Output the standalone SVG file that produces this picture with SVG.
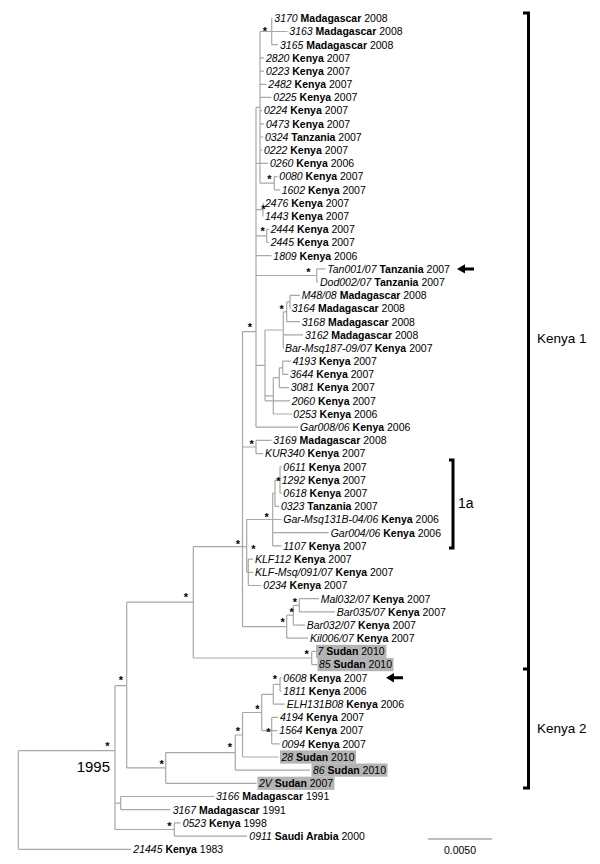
<svg xmlns="http://www.w3.org/2000/svg" width="600" height="864" viewBox="0 0 600 864">
<style>
text{font-family:"Liberation Sans",Arial,sans-serif;fill:#000}
.l{font-size:10.5px}
.i{font-style:italic}
.b{font-weight:bold}
.s{font-size:11px;font-weight:bold;text-anchor:middle}
.br{stroke:#a8a8a8;stroke-width:1.2;fill:none}
.bk{stroke:#000;stroke-width:3;fill:none}
.hl{fill:#b4b4b4}
</style>
<rect width="600" height="864" fill="#fff"/>
<g id="connectors">
<path class="br" d="M18.3,750.7V849.3M18.3,750.7H115M18.3,849.3H131
M115,685.7V829.5M115,685.7H126.7M115,803.1H120.7M120.7,796.5V809.7M120.7,796.5H214M120.7,809.7H170.5
M115,829.5H174.3M174.3,822.9V836.1M174.3,822.9H180.5M174.3,836.1H247
M126.7,602.2V767.9M126.7,602.2H193.3M126.7,767.9H165.7
M165.7,752.6V783.3M165.7,783.3H256.5M165.7,752.6H235.3M235.3,735V770.1M235.3,770.1H310M235.3,735H242.5
M242.5,712.5V757M242.5,757H278.5M242.5,712.5H261.7M261.7,694.3V730.6M261.7,694.3H273.3M273.3,684.4V704.2M273.3,704.2H284.5M273.3,684.4H280M280,677.8V691M280,677.8H281.5M280,691H281.5
M261.7,730.6H271.7M271.7,717.4V743.8M271.7,717.4H278M271.7,730.6H277.5M271.7,743.8H279.5
M193.3,546.7V658M193.3,658H311.7M311.7,651.4V664.6M311.7,651.4H316M311.7,664.6H317.5M193.3,546.7H246.7
M242.5,331.7V626.7M242.5,626.7H286.7M286.7,615.2V638.2M286.7,638.2H308M286.7,615.2H293.3M293.3,605.3V625.1M293.3,625.1H305M293.3,605.3H299.3M299.3,598.7V611.9M299.3,598.7H319M299.3,611.9H335
M246.7,519.5V572.3M246.7,572.3H248.3M248.3,559.1V585.5M248.3,559.1H253M248.3,572.3H253M248.3,585.5H261
M246.7,519.5H272.7M272.7,493.2V545.9M272.7,493.2H275M275,480V506.3M275,480H280M275,506.3H279M280,466.8V493.2M280,466.8H281.5M280,480H280.5M280,493.2H281.5
M272.7,519.5H281.5M272.7,532.7H328.5M272.7,545.9H281.5
M242.5,447H256M256,440.4V453.6M256,440.4H271.5M256,453.6H263
M242.5,331.7H256M256,107.4V427.2M256,427.2H298
M256,107.4H260M260,31.5V183.2M260,31.5H271.7M271.7,18.3V44.7M271.7,18.3H272.5M271.7,31.5H287.5M271.7,44.7H278
M260,57.9H264M260,71.1H264M260,84.3H266.5M260,97.4H271.5M260,110.6H262M260,123.8H264M260,137H263M260,150.2H262
M260,183.2H274.3M274.3,176.6V189.8M274.3,176.6H277.5M274.3,189.8H280
M256,163.4H268M256,209.6H263M263,203V216.2M263,203H263.5M263,216.2H263.5
M256,235.9H266.7M266.7,229.3V242.5M266.7,229.3H269M266.7,242.5H269M256,255.7H271.5
M256,275.5H316.7M316.7,268.9V282.1M316.7,268.9H325.5M316.7,282.1H318
M290,295.3V308.5M290,295.3H300M290,308.5H290.5M286.7,301.9H290M286.7,301.9V321.7M286.7,321.7H300
M283.3,311.8H286.7M283.3,311.8V348.1M283.3,334.9H303M283.3,348.1H284
M282.7,361.2V374.4M282.7,361.2H291M282.7,374.4H288.5M279.3,367.8H282.7M279.3,367.8V387.6M279.3,387.6H289
M273.3,377.7V414M273.3,377.7H279.3M273.3,414H292
M265,330V400.8M265,330H283.3M265,395.9H273.3M265,400.8H290M256,365.4H265"/>
</g>
<g id="highlights">
<rect class="hl" x="316" y="644.8" width="70.5" height="13.2"/>
<rect class="hl" x="317.5" y="658" width="76" height="13.2"/>
<rect class="hl" x="280" y="750.4" width="76" height="13.2"/>
<rect class="hl" x="311.5" y="763.5" width="76" height="13.2"/>
<rect class="hl" x="257.5" y="776.7" width="77" height="13.2"/>
</g>
<g id="leaves" class="l">
<g id="n0"><text x="274.3" y="22.1"><tspan class="i">3170</tspan><tspan class="b"> Madagascar</tspan> 2008</text></g>
<g id="n1"><text x="289.3" y="35.3"><tspan class="i">3163</tspan><tspan class="b"> Madagascar</tspan> 2008</text></g>
<g id="n2"><text x="280" y="48.5"><tspan class="i">3165</tspan><tspan class="b"> Madagascar</tspan> 2008</text></g>
<g id="n3"><text x="266" y="61.7"><tspan class="i">2820</tspan><tspan class="b"> Kenya</tspan> 2007</text></g>
<g id="n4"><text x="266" y="74.9"><tspan class="i">0223</tspan><tspan class="b"> Kenya</tspan> 2007</text></g>
<g id="n5"><text x="268.3" y="88.1"><tspan class="i">2482</tspan><tspan class="b"> Kenya</tspan> 2007</text></g>
<g id="n6"><text x="273.3" y="101.2"><tspan class="i">0225</tspan><tspan class="b"> Kenya</tspan> 2007</text></g>
<g id="n7"><text x="264" y="114.4"><tspan class="i">0224</tspan><tspan class="b"> Kenya</tspan> 2007</text></g>
<g id="n8"><text x="266" y="127.6"><tspan class="i">0473</tspan><tspan class="b"> Kenya</tspan> 2007</text></g>
<g id="n9"><text x="265" y="140.8"><tspan class="i">0324</tspan><tspan class="b"> Tanzania</tspan> 2007</text></g>
<g id="n10"><text x="264" y="154"><tspan class="i">0222</tspan><tspan class="b"> Kenya</tspan> 2007</text></g>
<g id="n11"><text x="270" y="167.2"><tspan class="i">0260</tspan><tspan class="b"> Kenya</tspan> 2006</text></g>
<g id="n12"><text x="279.3" y="180.4"><tspan class="i">0080</tspan><tspan class="b"> Kenya</tspan> 2007</text></g>
<g id="n13"><text x="281.7" y="193.6"><tspan class="i">1602</tspan><tspan class="b"> Kenya</tspan> 2007</text></g>
<g id="n14"><text x="265" y="206.8"><tspan class="i">2476</tspan><tspan class="b"> Kenya</tspan> 2007</text></g>
<g id="n15"><text x="265" y="220"><tspan class="i">1443</tspan><tspan class="b"> Kenya</tspan> 2007</text></g>
<g id="n16"><text x="270.7" y="233.1"><tspan class="i">2444</tspan><tspan class="b"> Kenya</tspan> 2007</text></g>
<g id="n17"><text x="270.7" y="246.3"><tspan class="i">2445</tspan><tspan class="b"> Kenya</tspan> 2007</text></g>
<g id="n18"><text x="273.3" y="259.5"><tspan class="i">1809</tspan><tspan class="b"> Kenya</tspan> 2006</text></g>
<g id="n19"><text x="327.3" y="272.7"><tspan class="i">Tan001/07</tspan><tspan class="b"> Tanzania</tspan> 2007</text></g>
<g id="n20"><text x="320" y="285.9"><tspan class="i">Dod002/07</tspan><tspan class="b"> Tanzania</tspan> 2007</text></g>
<g id="n21"><text x="301.7" y="299.1"><tspan class="i">M48/08</tspan><tspan class="b"> Madagascar</tspan> 2008</text></g>
<g id="n22"><text x="291.7" y="312.3"><tspan class="i">3164</tspan><tspan class="b"> Madagascar</tspan> 2008</text></g>
<g id="n23"><text x="301.7" y="325.5"><tspan class="i">3168</tspan><tspan class="b"> Madagascar</tspan> 2008</text></g>
<g id="n24"><text x="305" y="338.7"><tspan class="i">3162</tspan><tspan class="b"> Madagascar</tspan> 2008</text></g>
<g id="n25"><text x="285" y="351.9"><tspan class="i">Bar-Msq187-09/07</tspan><tspan class="b"> Kenya</tspan> 2007</text></g>
<g id="n26"><text x="292.7" y="365"><tspan class="i">4193</tspan><tspan class="b"> Kenya</tspan> 2007</text></g>
<g id="n27"><text x="290" y="378.2"><tspan class="i">3644</tspan><tspan class="b"> Kenya</tspan> 2007</text></g>
<g id="n28"><text x="290.7" y="391.4"><tspan class="i">3081</tspan><tspan class="b"> Kenya</tspan> 2007</text></g>
<g id="n29"><text x="291.7" y="404.6"><tspan class="i">2060</tspan><tspan class="b"> Kenya</tspan> 2007</text></g>
<g id="n30"><text x="293.3" y="417.8"><tspan class="i">0253</tspan><tspan class="b"> Kenya</tspan> 2006</text></g>
<g id="n31"><text x="300" y="431"><tspan class="i">Gar008/06</tspan><tspan class="b"> Kenya</tspan> 2006</text></g>
<g id="n32"><text x="273.3" y="444.2"><tspan class="i">3169</tspan><tspan class="b"> Madagascar</tspan> 2008</text></g>
<g id="n33"><text x="265" y="457.4"><tspan class="i">KUR340</tspan><tspan class="b"> Kenya</tspan> 2007</text></g>
<g id="n34"><text x="283.3" y="470.6"><tspan class="i">0611</tspan><tspan class="b"> Kenya</tspan> 2007</text></g>
<g id="n35"><text x="281.7" y="483.8"><tspan class="i">1292</tspan><tspan class="b"> Kenya</tspan> 2007</text></g>
<g id="n36"><text x="283.3" y="497"><tspan class="i">0618</tspan><tspan class="b"> Kenya</tspan> 2007</text></g>
<g id="n37"><text x="281" y="510.1"><tspan class="i">0323</tspan><tspan class="b"> Tanzania</tspan> 2007</text></g>
<g id="n38"><text x="283.3" y="523.3"><tspan class="i">Gar-Msq131B-04/06</tspan><tspan class="b"> Kenya</tspan> 2006</text></g>
<g id="n39"><text x="330.7" y="536.5"><tspan class="i">Gar004/06</tspan><tspan class="b"> Kenya</tspan> 2006</text></g>
<g id="n40"><text x="283.3" y="549.7"><tspan class="i">1107</tspan><tspan class="b"> Kenya</tspan> 2007</text></g>
<g id="n41"><text x="255" y="562.9"><tspan class="i">KLF112</tspan><tspan class="b"> Kenya</tspan> 2007</text></g>
<g id="n42"><text x="255" y="576.1"><tspan class="i">KLF-Msq/091/07</tspan><tspan class="b"> Kenya</tspan> 2007</text></g>
<g id="n43"><text x="263.3" y="589.3"><tspan class="i">0234</tspan><tspan class="b"> Kenya</tspan> 2007</text></g>
<g id="n44"><text x="320.7" y="602.5"><tspan class="i">Mal032/07</tspan><tspan class="b"> Kenya</tspan> 2007</text></g>
<g id="n45"><text x="336.7" y="615.7"><tspan class="i">Bar035/07</tspan><tspan class="b"> Kenya</tspan> 2007</text></g>
<g id="n46"><text x="306.7" y="628.9"><tspan class="i">Bar032/07</tspan><tspan class="b"> Kenya</tspan> 2007</text></g>
<g id="n47"><text x="310" y="642"><tspan class="i">Kil006/07</tspan><tspan class="b"> Kenya</tspan> 2007</text></g>
<g id="n48"><text x="317.5" y="655.2"><tspan class="i">7</tspan><tspan class="b"> Sudan</tspan> 2010</text></g>
<g id="n49"><text x="319" y="668.4"><tspan class="i">85</tspan><tspan class="b"> Sudan</tspan> 2010</text></g>
<g id="n50"><text x="283.3" y="681.6"><tspan class="i">0608</tspan><tspan class="b"> Kenya</tspan> 2007</text></g>
<g id="n51"><text x="283.3" y="694.8"><tspan class="i">1811</tspan><tspan class="b"> Kenya</tspan> 2006</text></g>
<g id="n52"><text x="286.7" y="708"><tspan class="i">ELH131B08</tspan><tspan class="b"> Kenya</tspan> 2006</text></g>
<g id="n53"><text x="280" y="721.2"><tspan class="i">4194</tspan><tspan class="b"> Kenya</tspan> 2007</text></g>
<g id="n54"><text x="279.3" y="734.4"><tspan class="i">1564</tspan><tspan class="b"> Kenya</tspan> 2007</text></g>
<g id="n55"><text x="281.7" y="747.6"><tspan class="i">0094</tspan><tspan class="b"> Kenya</tspan> 2007</text></g>
<g id="n56"><text x="281.5" y="760.8"><tspan class="i">28</tspan><tspan class="b"> Sudan</tspan> 2010</text></g>
<g id="n57"><text x="313" y="773.9"><tspan class="i">86</tspan><tspan class="b"> Sudan</tspan> 2010</text></g>
<g id="n58"><text x="259" y="787.1"><tspan class="i">2V</tspan><tspan class="b"> Sudan</tspan> 2007</text></g>
<g id="n59"><text x="216" y="800.3"><tspan class="i">3166</tspan><tspan class="b"> Madagascar</tspan> 1991</text></g>
<g id="n60"><text x="172.7" y="813.5"><tspan class="i">3167</tspan><tspan class="b"> Madagascar</tspan> 1991</text></g>
<g id="n61"><text x="182.7" y="826.7"><tspan class="i">0523</tspan><tspan class="b"> Kenya</tspan> 1998</text></g>
<g id="n62"><text x="249.3" y="839.9"><tspan class="i">0911</tspan><tspan class="b"> Saudi Arabia</tspan> 2000</text></g>
<g id="n63"><text x="133.3" y="853.1"><tspan class="i">21445</tspan><tspan class="b"> Kenya</tspan> 1983</text></g>
</g>
<g id="support">
<text class="s" x="265" y="35.3">*</text>
<text class="s" x="269.3" y="183">*</text>
<text class="s" x="263.3" y="213">*</text>
<text class="s" x="262.7" y="235.3">*</text>
<text class="s" x="308.3" y="276.3">*</text>
<text class="s" x="281.7" y="313">*</text>
<text class="s" x="250" y="331.3">*</text>
<text class="s" x="251.7" y="448">*</text>
<text class="s" x="278.3" y="484.6">*</text>
<text class="s" x="266.7" y="521.3">*</text>
<text class="s" x="238" y="548">*</text>
<text class="s" x="253.3" y="553">*</text>
<text class="s" x="295" y="606.3">*</text>
<text class="s" x="291.7" y="616.3">*</text>
<text class="s" x="282.7" y="626.3">*</text>
<text class="s" x="306.7" y="658">*</text>
<text class="s" x="186" y="601.3">*</text>
<text class="s" x="275" y="683">*</text>
<text class="s" x="257.5" y="713">*</text>
<text class="s" x="268.3" y="735.6">*</text>
<text class="s" x="238" y="734.6">*</text>
<text class="s" x="230" y="751.3">*</text>
<text class="s" x="161.7" y="768">*</text>
<text class="s" x="121" y="683.6">*</text>
<text class="s" x="107.3" y="749.6">*</text>
<text class="s" x="169.3" y="829.6">*</text>
</g>
<g id="date1995"><text x="110" y="772" font-size="15" text-anchor="end">1995</text></g>
<g id="arrows">
<path d="M457,268.9L465,264.2V267.4H474V270.4H465V273.6Z" fill="#000"/>
<path d="M386,677.8L394,673.1V676.3H403V679.3H394V682.5Z" fill="#000"/>
</g>
<g id="clades">
<path class="bk" d="M523,13H528.5V788H523M523,669H528.5"/>
<text x="537" y="343" font-size="13.5">Kenya 1</text>
<text x="537" y="733" font-size="13.5">Kenya 2</text>
<path class="bk" d="M449,460H453V548H449"/>
<text x="458" y="508" font-size="14">1a</text>
</g>
<g id="scale">
<path d="M428,839H492" stroke="#808080" stroke-width="1.2"/>
<text x="460" y="854" font-size="10.5" text-anchor="middle">0.0050</text>
</g>
</svg>
